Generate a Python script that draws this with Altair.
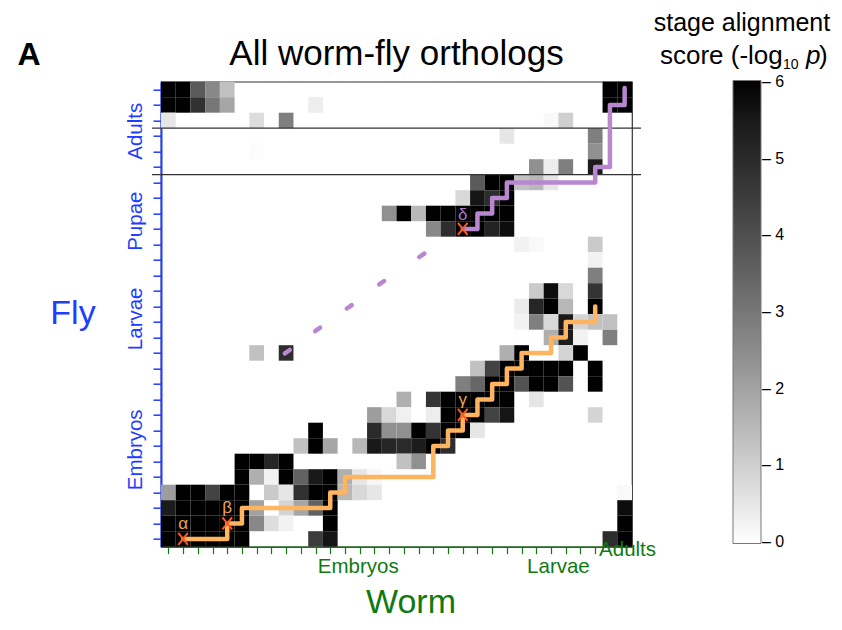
import altair as alt
import pandas as pd

FONT = "Liberation Sans"
BLUE = "#1f3dff"
GREEN = "#107a10"
ORANGE = "#ffb45f"
PURPLE = "#b987cf"
MARK = "#ff5a1e"

# ---------------- data ----------------
n_worm = 32
n_fly = 30
worm_groups = ["Embryos", "Larvae"]
worm_group_pos = [13.4, 27.0]
worm_adult_label = ["Adults"]
worm_adult_pos = [31.7]
fly_groups = ["Adults", "Pupae", "Larvae", "Embryos"]
fly_group_pos = [3.2, 9.0, 15.3, 23.75]
stage_boundaries = [3, 6]
legend_ticks = [0, 1, 2, 3, 4, 5, 6]

# non-empty cells, per fly stage (row 0 = latest fly stage at top)
row_cols = [
    [0, 1, 2, 3, 4, 30, 31],
    [0, 1, 2, 3, 4, 10, 30, 31],
    [0, 6, 8, 26, 27],
    [23, 29],
    [6, 29],
    [25, 26, 27, 29],
    [21, 22, 23, 24, 25, 26],
    [20, 21, 22, 23],
    [15, 16, 17, 18, 19, 20, 21, 22, 23],
    [18, 19, 20, 21, 22, 23],
    [24, 25, 29],
    [29],
    [29],
    [25, 26, 27, 29],
    [24, 25, 26, 27, 29],
    [24, 25, 26, 27, 28, 29, 30],
    [26, 27, 28, 30],
    [6, 8, 23, 24, 27, 28],
    [21, 22, 23, 24, 25, 26, 27, 29],
    [20, 21, 22, 23, 24, 25, 26, 27, 29],
    [16, 18, 19, 20, 21, 22, 23, 25],
    [14, 15, 16, 18, 19, 20, 21, 22, 23, 29],
    [10, 14, 15, 16, 17, 18, 19, 20, 21],
    [9, 10, 11, 13, 14, 15, 16, 17, 18, 19],
    [5, 6, 7, 8, 16, 17],
    [5, 6, 7, 8, 9, 10, 11, 12, 13, 14],
    [0, 1, 2, 3, 4, 5, 7, 8, 9, 10, 11, 12, 13, 14, 31],
    [0, 1, 2, 3, 4, 5, 6, 8, 9, 10, 11, 31],
    [0, 1, 2, 3, 4, 5, 6, 7, 8, 11, 31],
    [0, 1, 2, 3, 4, 5, 10, 11, 30, 31],
]
row_scores = [
    [6, 6, 3.7, 2.6, 1.3, 6, 6],
    [6, 6, 4.8, 3.0, 1.9, 0.35, 6, 6],
    [0.5, 0.7, 2.8, 0.1, 1.0],
    [0.5, 2.8],
    [0.05, 2.4],
    [2.4, 0.35, 2.8, 5.4],
    [3.7, 6, 6, 1.3, 1.5, 0.5],
    [0.8, 5.6, 4.9, 6],
    [2.4, 6, 1.5, 6, 6, 6, 6, 6, 6],
    [2.6, 4.9, 6, 6, 5.2, 5.8],
    [0.25, 0.1, 1.1],
    [0.25],
    [2.8],
    [1.1, 5.8, 0.8, 4.7],
    [0.4, 5.1, 6, 1.5, 6],
    [0.25, 2.8, 0.8, 5.5, 0.9, 1.3, 1.3],
    [1.7, 5.4, 0.25, 2.8],
    [1.3, 4.9, 1.7, 6, 0.9, 6],
    [1.3, 4.3, 6, 6, 6, 6, 6, 6],
    [2.8, 3.4, 6, 6, 3.9, 6, 6, 3.9, 6],
    [1.7, 4.7, 6, 6, 6, 6, 6, 0.5],
    [2.1, 0.8, 0.3, 0.35, 6, 6, 6, 4.3, 5.6, 0.9],
    [6, 5.0, 2.4, 2.4, 6, 4.7, 6, 6, 0.5],
    [1.3, 6, 1.9, 1.5, 5.5, 5.1, 5.0, 5.4, 6, 4.9],
    [6, 6, 5.1, 6, 1.3, 2.4],
    [6, 1.7, 0.25, 6, 3.5, 5.5, 6, 1.7, 0.5, 0.15],
    [2.1, 6, 6, 4.3, 6, 6, 1.1, 0.5, 4.8, 6, 6, 1.5, 0.8, 0.5, 0.1],
    [5.4, 6, 6, 6, 6, 6, 2.0, 0.9, 1.9, 3.5, 6, 5.8],
    [6, 6, 6, 6, 6, 6, 2.6, 0.7, 0.25, 6, 6],
    [6, 6, 6, 6, 6, 6, 4.5, 5.6, 4.9, 6],
]

# alignment paths (worm stage, fly stage), cell centres
orange_x = [1.5, 4.5, 4.5, 5.5, 5.5, 11.5, 11.5, 12.5, 12.5, 18.5, 18.5, 19.5, 19.5, 20.5,
            20.5, 21.5, 21.5, 22.5, 22.5, 23.5, 23.5, 24.5, 24.5, 26.5, 26.5, 27.5, 27.5, 29.5, 29.5]
orange_y = [29.5, 29.5, 28.5, 28.5, 27.5, 27.5, 26.5, 26.5, 25.5, 25.5, 23.5, 23.5, 22.5, 22.5,
            21.5, 21.5, 20.5, 20.5, 19.5, 19.5, 18.5, 18.5, 17.5, 17.5, 16.5, 16.5, 15.5, 15.5, 14.5]
purple_x = [20.5, 21.5, 21.5, 22.5, 22.5, 23.5, 23.5, 29.5, 29.5, 30.5, 30.5, 31.5, 31.5]
purple_y = [9.5, 9.5, 8.5, 8.5, 7.5, 7.5, 6.5, 6.5, 5.5, 5.5, 1.5, 1.5, 0.4]
dash_x = [8.58, 10.64, 12.79, 14.99, 17.72]
dash_y = [17.42, 15.98, 14.52, 12.97, 11.2]
anchor_names = ["α", "β", "γ", "δ"]
anchor_x = [1.5, 4.5, 20.5, 20.5]
anchor_y = [29.5, 28.5, 21.5, 9.5]

# ---------------- tables ----------------
recs = []
for r, (cs, ss) in enumerate(zip(row_cols, row_scores)):
    for c, s in zip(cs, ss):
        recs.append({"c": c, "c2": c + 1, "r": r, "r2": r + 1, "score": s})
cells = pd.DataFrame(recs)

orange_df = pd.DataFrame({"x": orange_x, "y": orange_y, "i": range(len(orange_x))})
purple_df = pd.DataFrame({"x": purple_x, "y": purple_y, "i": range(len(purple_x))})
dx, dy = 0.167, 0.111
dash_df = pd.DataFrame({"x": [v - dx for v in dash_x], "x2": [v + dx for v in dash_x],
                        "y": [v + dy for v in dash_y], "y2": [v - dy for v in dash_y]})
anchors = pd.DataFrame({"x": anchor_x, "y": anchor_y, "name": anchor_names})

W, H = 471, 465
xs = alt.Scale(domain=[0, n_worm], nice=False, zero=False)
ys = alt.Scale(domain=[0, n_fly], nice=False, zero=False, reverse=True)
x_axis = alt.Axis(values=[i + 0.5 for i in range(30)], labels=False, title=None, grid=False,
                  tickSize=7, tickWidth=1.2, tickColor=GREEN, domainColor=GREEN, domainWidth=1.5)
y_axis = alt.Axis(values=[i + 0.5 for i in range(n_fly)], labels=False, title=None, grid=False,
                  tickSize=8, tickWidth=1.5, tickColor=BLUE, domainColor=BLUE, domainWidth=2)


def X(f):
    return alt.X(f, scale=xs, axis=x_axis)


def Y(f):
    return alt.Y(f, scale=ys, axis=y_axis)


# tiny pad on the colour domain keeps the end labels of the colour bar centred on their value
heat = alt.Chart(cells).mark_rect().encode(
    x=X("c:Q"), x2="c2:Q", y=Y("r:Q"), y2="r2:Q",
    color=alt.Color("score:Q",
                    scale=alt.Scale(domain=[-0.02, 6.02], range=["#ffffff", "#000000"],
                                    clamp=True, nice=False, zero=False),
                    legend=alt.Legend(title=None, orient="none", legendX=572, legendY=-1.2,
                                      direction="vertical", gradientLength=463, gradientThickness=28,
                                      values=legend_ticks, labelFontSize=16, labelFont=FONT,
                                      labelColor="#000", labelOffset=1, labelOverlap=False,
                                      labelExpr="'\u2013 ' + datum.label",
                                      gradientStrokeColor="#777", gradientStrokeWidth=1)),
)

seps = alt.Chart(pd.DataFrame({"b": stage_boundaries})).mark_rule(
    color="#333", strokeWidth=1.3).encode(y=Y("b:Q"), x=alt.value(-9), x2=alt.value(480))

orange = alt.Chart(orange_df).mark_line(color=ORANGE, strokeWidth=4.5, strokeJoin="round",
                                        strokeCap="round").encode(x=X("x:Q"), y=Y("y:Q"), order="i:Q")
purple = alt.Chart(purple_df).mark_line(color=PURPLE, strokeWidth=4.5, strokeJoin="round",
                                        strokeCap="round").encode(x=X("x:Q"), y=Y("y:Q"), order="i:Q")
dashes = alt.Chart(dash_df).mark_rule(color=PURPLE, strokeWidth=4.5, strokeCap="round").encode(
    x=X("x:Q"), x2="x2:Q", y=Y("y:Q"), y2="y2:Q")

markers = alt.Chart(anchors).mark_point(shape="M-0.8,-1L0.8,1M-0.8,1L0.8,-1", filled=False,
                                        color=MARK, strokeWidth=2, size=144, opacity=1).encode(
    x=X("x:Q"), y=Y("y:Q"))
greek_o = alt.Chart(anchors.iloc[:3]).mark_text(font=FONT, fontSize=17, color="#eea456",
                                                baseline="alphabetic", dy=-10).encode(
    x=X("x:Q"), y=Y("y:Q"), text="name:N")
greek_p = alt.Chart(anchors.iloc[3:]).mark_text(font=FONT, fontSize=17, color="#a878c8",
                                                baseline="alphabetic", dy=-9).encode(
    x=X("x:Q"), y=Y("y:Q"), text="name:N")

fly_lab = alt.Chart(pd.DataFrame({"n": fly_groups, "p": fly_group_pos})).mark_text(
    font=FONT, fontSize=20.5, color=BLUE, angle=270, align="center", baseline="middle").encode(
    x=alt.value(-25), y=Y("p:Q"), text="n:N")
worm_lab = alt.Chart(pd.DataFrame({"n": worm_groups, "p": worm_group_pos})).mark_text(
    font=FONT, fontSize=20.5, color=GREEN, align="center", baseline="alphabetic").encode(
    x=X("p:Q"), y=alt.value(491), text="n:N")
worm_adult = alt.Chart(pd.DataFrame({"n": worm_adult_label, "p": worm_adult_pos})).mark_text(
    font=FONT, fontSize=20.5, color=GREEN, align="center", baseline="alphabetic").encode(
    x=X("p:Q"), y=alt.value(474), text="n:N")


def label(t, x, y, **kw):
    props = dict(font=FONT, baseline="alphabetic", align="center", color="#000")
    props.update(kw)
    return alt.Chart(pd.DataFrame({"t": [t]})).mark_text(**props).encode(
        x=alt.value(x), y=alt.value(y), text="t:N")


texts = [
    label("All worm-fly orthologs", 235.5, -17, fontSize=35),
    label("A", -132, -17, fontSize=32, fontWeight="bold"),
    label("Fly", -88, 242, fontSize=34, color=BLUE),
    label("Worm", 250, 531, fontSize=34, color=GREEN),
    label("stage alignment", 581, -51, fontSize=25),
    label("score (-log", 499, -18, fontSize=26, align="left"),
    label("10", 622, -13, fontSize=14, align="left"),
    label("p", 645, -18, fontSize=26, align="left", fontStyle="italic"),
    label(")", 658, -18, fontSize=26, align="left"),
]

chart = alt.layer(heat, seps, orange, purple, dashes, markers, greek_o, greek_p,
                  fly_lab, worm_lab, worm_adult, *texts).properties(
    width=W, height=H,
    autosize=alt.AutoSizeParams(type="none"),
    padding={"left": 153, "top": 73.7, "right": 202, "bottom": 75},
).configure_view(stroke="#333", strokeWidth=1.2)

chart.save("out.html", embed_options={"renderer": "svg", "actions": False})
